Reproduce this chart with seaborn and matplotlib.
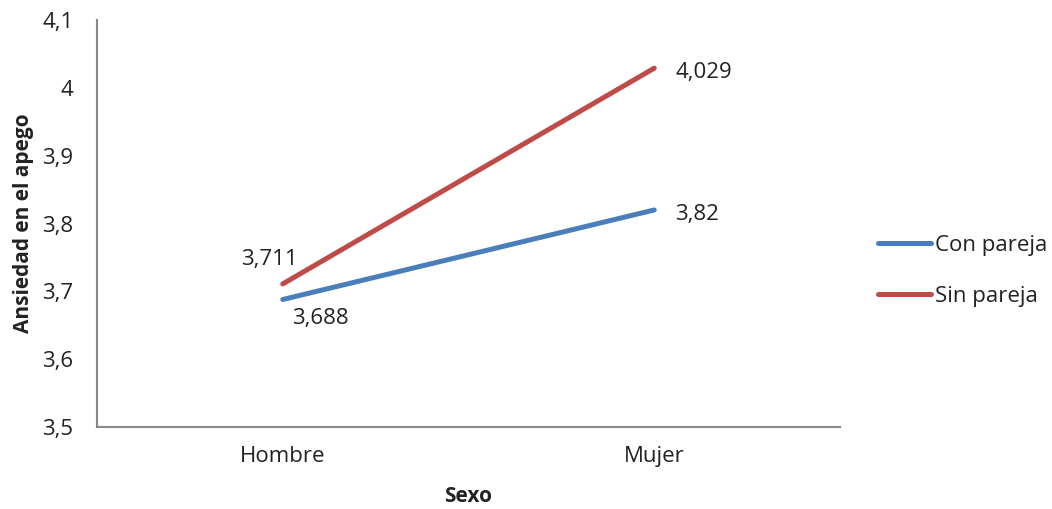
import matplotlib
matplotlib.use("Agg")
import matplotlib.pyplot as plt
import seaborn as sns
import pandas as pd

sexo = ["Hombre", "Mujer"]
con_pareja = [3.688, 3.82]
sin_pareja = [3.711, 4.029]
series_names = ["Con pareja", "Sin pareja"]
y_ticks = [3.5, 3.6, 3.7, 3.8, 3.9, 4.0, 4.1]
y_tick_labels = ["3,5", "3,6", "3,7", "3,8", "3,9", "4", "4,1"]
value_labels_con = ["3,688", "3,82"]
value_labels_sin = ["3,711", "4,029"]

sns.set_style("white")
plt.rcParams["font.family"] = ["Open Sans", "DejaVu Sans"]

df = pd.DataFrame({
    "Sexo": sexo * 2,
    "valor": con_pareja + sin_pareja,
    "grupo": [series_names[0]] * 2 + [series_names[1]] * 2,
})

fs = 16
txt = "#222222"

fig = plt.figure(figsize=(10.52, 5.09), dpi=100)
ax = fig.add_axes([0.0922, 0.161, 0.7063, 0.7997])

palette = {"Con pareja": "#4a7ebb", "Sin pareja": "#be4b48"}
sns.lineplot(data=df, x="Sexo", y="valor", hue="grupo", palette=palette,
             linewidth=3.6, ax=ax, legend=True, solid_capstyle="round")

ax.set_xlim(-0.5, 1.5)
ax.set_ylim(3.5, 4.1)
ax.set_yticks(y_ticks)
ax.set_yticklabels(y_tick_labels)
ax.tick_params(axis="both", length=0, labelsize=fs, colors=txt)
ax.tick_params(axis="y", pad=17)
ax.tick_params(axis="x", pad=14)

for side in ["top", "right"]:
    ax.spines[side].set_visible(False)
for side in ["left", "bottom"]:
    ax.spines[side].set_color("#888888")
    ax.spines[side].set_linewidth(1.5)

ax.set_xlabel("Sexo", fontsize=15, fontweight="bold", labelpad=13, color=txt)
ax.set_ylabel("Ansiedad en el apego", fontsize=15, fontweight="bold", labelpad=6, color=txt)

# value labels next to each point
ax.annotate(value_labels_sin[0], (0, sin_pareja[0]), xytext=(-30, 10),
            textcoords="offset points", fontsize=fs, ha="left", va="bottom", color=txt)
ax.annotate(value_labels_con[0], (0, con_pareja[0]), xytext=(7, -6),
            textcoords="offset points", fontsize=fs, ha="left", va="top", color=txt)
ax.annotate(value_labels_sin[1], (1, sin_pareja[1]), xytext=(15, -3),
            textcoords="offset points", fontsize=fs, ha="left", va="center", color=txt)
ax.annotate(value_labels_con[1], (1, con_pareja[1]), xytext=(15, -3),
            textcoords="offset points", fontsize=fs, ha="left", va="center", color=txt)

leg = ax.legend(loc="center left", bbox_to_anchor=(1.051, 0.383), frameon=False,
                fontsize=fs, handlelength=2.4, handletextpad=0.15, labelspacing=1.35,
                borderaxespad=0, borderpad=0)
for line in leg.get_lines():
    line.set_linewidth(3.6)
    line.set_solid_capstyle("round")
for t in leg.get_texts():
    t.set_color(txt)

fig.savefig("out.png", dpi=100)
